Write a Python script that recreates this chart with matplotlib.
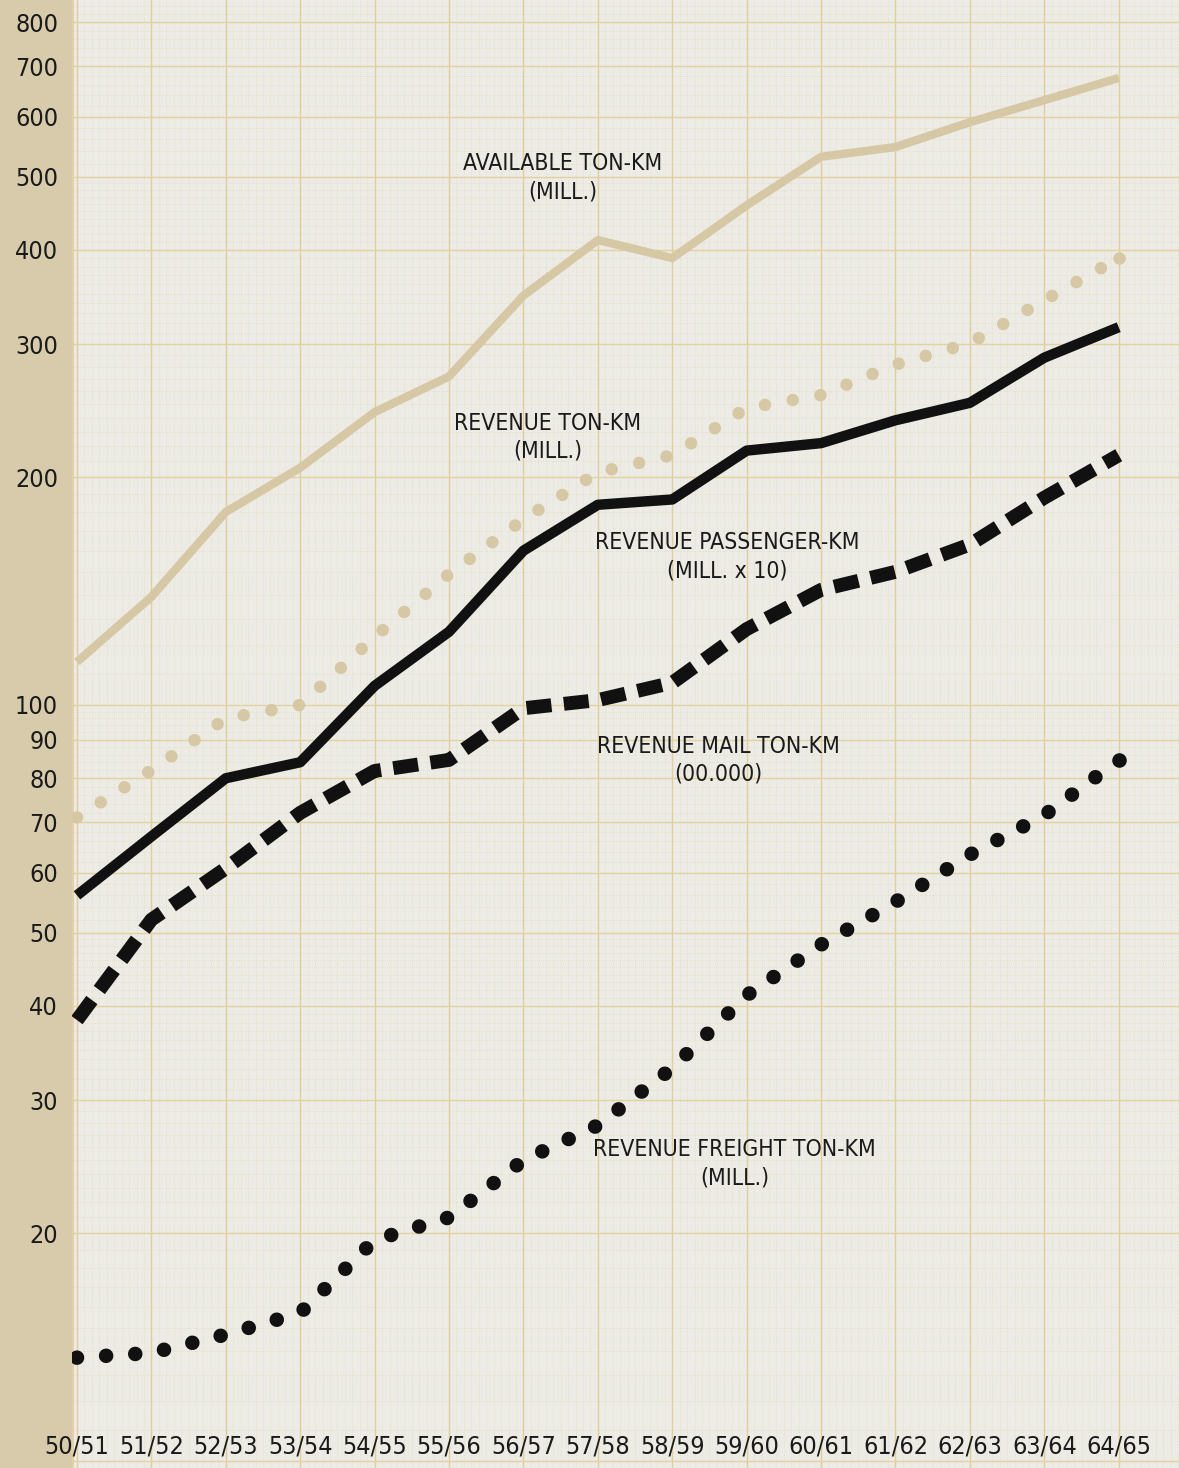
import numpy as np
import matplotlib
matplotlib.use('agg')
import matplotlib.pyplot as plt
from matplotlib.transforms import blended_transform_factory

plt.rcParams['font.family'] = ['Liberation Sans Narrow', 'DejaVu Sans']
plt.rcParams['font.stretch'] = 'condensed'

years = ['50/51', '51/52', '52/53', '53/54', '54/55', '55/56', '56/57', '57/58',
         '58/59', '59/60', '60/61', '61/62', '62/63', '63/64', '64/65']
available_tkm = [114, 139, 180, 206, 244, 272, 348, 412, 390, 458, 531, 547, 590, 631, 675]
revenue_tkm = [71, 82, 96, 100, 123, 149, 176, 203, 214, 247, 257, 282, 301, 343, 390]
passenger_km = [56, 67, 80, 84, 106, 125, 160, 184, 187, 217, 222, 238, 251, 288, 316]
mail_tkm = [38.3, 52, 60.8, 72, 81.8, 84.6, 99, 101.5, 107, 126, 142, 150, 163, 188, 214]
freight_tkm = [13.7, 13.9, 14.7, 15.7, 19.6, 21, 25, 27.8, 33.1, 41.3, 48.2, 54.9, 63.4, 71.5, 84.6]
ytick_vals = [20, 30, 40, 50, 60, 70, 80, 90, 100, 200, 300, 400, 500, 600, 700, 800]

tan = '#d6c7a5'
paper = '#ecebe5'
strip = '#d8cbab'

fig = plt.figure(figsize=(11.79, 14.68), dpi=100, facecolor=strip)
ax = fig.add_axes([72 / 1179, 0, 1 - 72 / 1179, 1])
ax.set_facecolor(paper)
ax.set_yscale('log')
ax.set_xlim(-0.067, 14.81)
ax.set_ylim(9.79, 856)

# graph paper grid
x = np.arange(len(years))
for xv in np.arange(-0.0, 14.81, 0.1):
    ax.axvline(xv, color='#e3d6b0', lw=0.5, ls=(0, (1, 2)), zorder=0)
for xv in x:
    ax.axvline(xv, color='#e0cf9c', lw=1.0, zorder=0)
ax.axvline(-0.06, color='#e6c9a0', lw=1.2, zorder=0)

minor_h = list(np.arange(10, 50, 1)) + list(np.arange(50, 100, 2)) + \
    list(np.arange(100, 500, 10)) + list(np.arange(500, 860, 20))
for yv in minor_h:
    ax.axhline(yv, color='#e3d6b0', lw=0.5, ls=(0, (1, 2)), zorder=0)
for yv in list(np.arange(10, 100, 10)) + list(np.arange(100, 900, 100)):
    ax.axhline(yv, color='#e3d2a0', lw=1.0, zorder=0)

# series
ax.plot(x, available_tkm, color=tan, lw=6, solid_capstyle='butt', solid_joinstyle='round', zorder=3)
ax.plot(x, revenue_tkm, color=tan, lw=9, dashes=(0.001, 2.25), dash_capstyle='round', zorder=3)
ax.plot(x[-1], revenue_tkm[-1], 'o', color=tan, ms=9, mew=0, zorder=3)
ax.plot(x, passenger_km, color='#111111', lw=7.5, solid_capstyle='butt', solid_joinstyle='round', zorder=3)
ax.plot(x, mail_tkm, color='#111111', lw=10, dashes=(1.8, 0.9), dash_capstyle='butt', zorder=3)
ax.plot(x, freight_tkm, color='#111111', lw=10.5, dashes=(0.001, 2.0), dash_capstyle='round', zorder=3)
ax.plot(x[-1], freight_tkm[-1], 'o', color='#111111', ms=10.5, mew=0, zorder=3)

# labels
lab = dict(fontsize=16.5, ha='center', va='center', color='#1a1a1a', zorder=4, linespacing=1.3)
ax.text(6.53, 498, 'AVAILABLE TON-KM\n(MILL.)', **lab)
ax.text(6.33, 226, 'REVENUE TON-KM\n(MILL.)', **lab)
ax.text(8.74, 157, 'REVENUE PASSENGER-KM\n(MILL. x 10)', **lab)
ax.text(8.62, 84.5, 'REVENUE MAIL TON-KM\n(00.000)', **lab)
ax.text(8.84, 24.7, 'REVENUE FREIGHT TON-KM\n(MILL.)', **lab)

# axes ticks
ax.set_yticks(ytick_vals)
ax.set_yticklabels([str(v) for v in ytick_vals])
ax.yaxis.set_minor_locator(matplotlib.ticker.NullLocator())
ax.tick_params(axis='y', length=0, pad=10, labelsize=18, labelcolor='#1a1a1a')
ax.set_xticks([])
trans = blended_transform_factory(ax.transData, ax.transAxes)
for i, yr in enumerate(years):
    ax.text(i, 0.0145, yr, transform=trans, ha='center', va='center', fontsize=18, color='#1a1a1a')

for s in ax.spines.values():
    s.set_visible(False)

fig.savefig('out.png', dpi=100, facecolor=strip)
